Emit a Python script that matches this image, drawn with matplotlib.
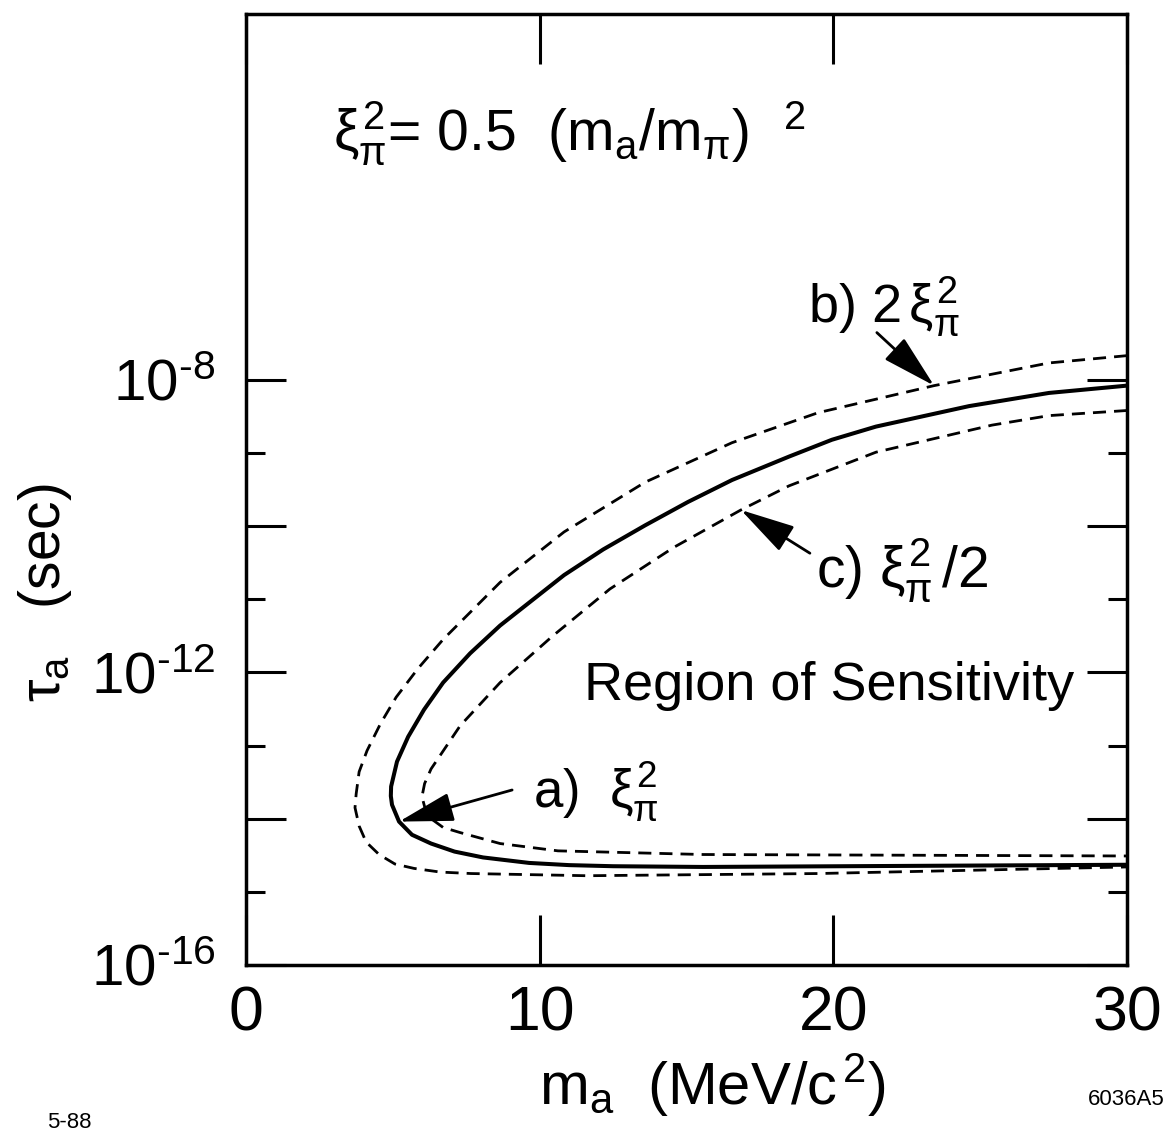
import numpy as np
import matplotlib
matplotlib.use('Agg')
import matplotlib.pyplot as plt

plt.rcParams['font.family'] = ['Liberation Sans', 'DejaVu Sans']
plt.rcParams['mathtext.fontset'] = 'custom'
plt.rcParams['mathtext.rm'] = 'Liberation Sans'
plt.rcParams['mathtext.it'] = 'Liberation Sans'
plt.rcParams['mathtext.bf'] = 'Liberation Sans:bold'

# a) xi_pi^2  (solid)   -- mass [MeV/c^2], log10(lifetime [s])
m_a = [30.0, 27.34, 24.62, 21.45, 19.95, 18.49, 16.55, 15.05, 13.59, 12.16, 10.83, 8.65,
       7.63, 6.71, 6.06, 5.52, 5.14, 4.94, 4.93, 4.97, 5.21, 5.65, 6.30, 7.10, 8.07, 9.64,
       11.0, 12.50, 15.56, 30.0]
lt_a = [-8.08, -8.18, -8.36, -8.64, -8.82, -9.05, -9.37, -9.67, -9.99, -10.32, -10.67, -11.36,
        -11.74, -12.14, -12.51, -12.88, -13.22, -13.56, -13.69, -13.81, -14.04, -14.22, -14.34,
        -14.45, -14.53, -14.605, -14.635, -14.65, -14.66, -14.63]

# b) 2 xi_pi^2  (outer dashed)
m_b = [30.0, 27.34, 23.43, 19.48, 16.55, 13.59, 10.83, 8.65, 6.71, 5.85, 5.11, 4.58, 4.12,
       3.85, 3.75, 3.71, 3.85, 4.09, 4.53, 5.07, 5.72, 6.61, 7.66, 11.61, 19.48, 30.0]
lt_b = [-7.67, -7.77, -8.08, -8.45, -8.86, -9.40, -10.08, -10.77, -11.55, -11.95, -12.34, -12.70,
        -13.07, -13.36, -13.66, -13.85, -14.10, -14.32, -14.49, -14.62, -14.68, -14.73, -14.75,
        -14.78, -14.75, -14.66]

# c) xi_pi^2 / 2  (inner dashed)
m_c = [30.0, 27.34, 25.40, 21.45, 18.49, 16.85, 14.57, 12.39, 10.42, 8.65, 7.29, 6.30,
       6.08, 5.99, 6.09, 6.30, 6.71, 7.29, 8.65, 10.62, 15.56, 30.0]
lt_c = [-8.42, -8.49, -8.62, -8.99, -9.45, -9.78, -10.29, -10.86, -11.51, -12.14, -12.73, -13.32,
        -13.52, -13.70, -13.85, -14.00, -14.12, -14.19, -14.34, -14.44, -14.49, -14.51]

x_ticks = [0, 10, 20, 30]
y_major = [1e-16, 1e-14, 1e-12, 1e-10, 1e-8]
y_major_labels = [r'$10^{\text{-16}}$', '', r'$10^{\text{-12}}$', '', r'$10^{\text{-8}}$']
y_minor = [1e-15, 1e-13, 1e-11, 1e-9]

tau_a = 10 ** np.array(lt_a)
tau_b = 10 ** np.array(lt_b)
tau_c = 10 ** np.array(lt_c)

fig = plt.figure(figsize=(11.7, 11.31), dpi=100)
ax = fig.add_axes([0.2103, 0.1468, 0.7530, 0.8408])

ax.plot(m_a, tau_a, color='k', lw=2.9, solid_joinstyle='round')
ax.plot(m_b, tau_b, color='k', lw=2.0, dashes=(4.7, 2.9))
ax.plot(m_c, tau_c, color='k', lw=2.0, dashes=(4.7, 2.9))

ax.set_yscale('log')
ax.set_xlim(0, 30)
ax.set_ylim(1e-16, 1e-3)

ax.set_xticks(x_ticks)
ax.set_xticklabels([str(t) for t in x_ticks])
ax.xaxis.set_minor_locator(matplotlib.ticker.NullLocator())
ax.set_yticks(y_major)
ax.set_yticklabels(y_major_labels)
ax.set_yticks(y_minor, minor=True)
ax.yaxis.set_minor_formatter(matplotlib.ticker.NullFormatter())

ax.tick_params(which='both', direction='in', left=True, right=True, top=True, bottom=True,
               width=2.2)
ax.tick_params(axis='x', which='major', length=36, pad=14, labelsize=45)
ax.tick_params(axis='y', which='major', length=29, pad=22, labelsize=42)
ax.tick_params(axis='y', which='minor', length=14)
for s in ax.spines.values():
    s.set_linewidth(2.5)

# formula at top
ax.text(0.099, 0.857, r'$\xi_\pi^2$= 0.5  (m$_{a}$/m$_\pi$)$^{\quad 2}$', transform=ax.transAxes,
        fontsize=41, ha='left', va='baseline')

ax.text(0.384, 0.279, 'Region of Sensitivity', transform=ax.transAxes,
        fontsize=39, ha='left', va='baseline')

# curve labels and arrows
arrow = dict(arrowstyle='-|>,head_length=1.7,head_width=0.45', color='k', lw=2,
             mutation_scale=20, shrinkA=0, shrinkB=0)
ax.text(0.326, 0.166, r'a)  $\xi_\pi^2$', transform=ax.transAxes, fontsize=38, va='baseline')
ax.annotate('', xy=(m_a[20], tau_a[20]), xytext=(0.302, 0.184), textcoords='axes fraction',
            arrowprops=arrow)
ax.text(0.638, 0.675, r'b) 2$\,\xi_\pi^2$', transform=ax.transAxes, fontsize=39, va='baseline')
ax.annotate('', xy=(m_b[2], tau_b[2]), xytext=(0.716, 0.665), textcoords='axes fraction',
            arrowprops=arrow)
ax.text(0.647, 0.397, r'c) $\xi_\pi^2\,$/2', transform=ax.transAxes, fontsize=41, va='baseline')
ax.annotate('', xy=(m_c[5], tau_c[5]), xytext=(0.640, 0.433), textcoords='axes fraction',
            arrowprops=arrow)

# axis titles
ax.text(0.529, -0.147, r'm$_{a}$  (MeV/c$^{\,2}$)', transform=ax.transAxes,
        fontsize=43, ha='center', va='baseline')
ax.text(-0.228, 0.392, r'$\tau_{a}$   (sec)', transform=ax.transAxes,
        fontsize=41, ha='center', va='center', rotation=90)

fig.text(0.995, 0.023, '6036A5', fontsize=16, ha='right', va='baseline')
fig.text(0.04, 0.003, '5-88', fontsize=16, ha='left', va='baseline')

fig.savefig('out.png', dpi=100)
